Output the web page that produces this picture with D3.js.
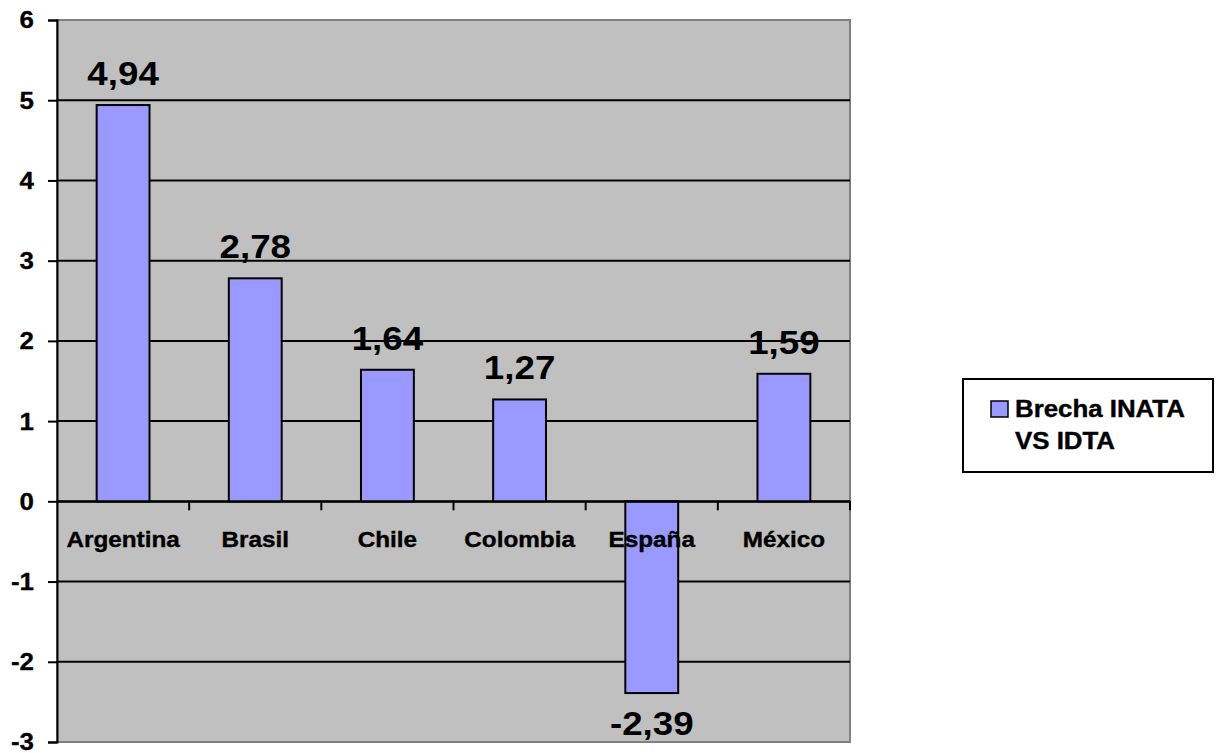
<!DOCTYPE html>
<html>
<head>
<meta charset="utf-8">
<script src="https://cdn.jsdelivr.net/npm/d3@7"></script>
<style>
  html, body { margin: 0; padding: 0; background: #ffffff; }
  svg { display: block; }
  text { font-family: Arial, "Liberation Sans", sans-serif; font-weight: bold; fill: #000; }
</style>
</head>
<body>
<svg id="chart" width="1218" height="753"></svg>
<script>
// Brecha INATA vs IDTA por país
const categories = ["Argentina", "Brasil", "Chile", "Colombia", "España", "México"];
const values = [4.94, 2.78, 1.64, 1.27, -2.39, 1.59];
const valueLabels = ["4,94", "2,78", "1,64", "1,27", "-2,39", "1,59"];
const yTicks = [-3, -2, -1, 0, 1, 2, 3, 4, 5, 6];
const seriesName = ["Brecha INATA", "VS IDTA"];

const svg = d3.select("#chart");
const plot = { left: 57, right: 850, top: 20, bottom: 742 };
const stretch = 1.08;

const x = d3.scaleBand().domain(categories).range([plot.left, plot.right]).paddingInner(0.6).paddingOuter(0.3);
const xCat = d3.scaleBand().domain(categories).range([plot.left, plot.right]);
const y = d3.scaleLinear().domain([-3, 6]).range([plot.bottom, plot.top]);

// plot background
svg.append("rect")
  .attr("x", plot.left).attr("y", plot.top)
  .attr("width", plot.right - plot.left).attr("height", plot.bottom - plot.top)
  .attr("fill", "#C0C0C0").attr("stroke", "#808080").attr("stroke-width", 2);

// horizontal gridlines
svg.append("g").selectAll("line")
  .data(yTicks.filter(t => t > -3 && t < 6))
  .join("line")
  .attr("x1", plot.left).attr("x2", plot.right)
  .attr("y1", d => y(d)).attr("y2", d => y(d))
  .attr("stroke", "#000").attr("stroke-width", 2);

// left axis line and tick marks
const yAxis = svg.append("g").attr("transform", `translate(${plot.left},0)`)
  .call(d3.axisLeft(y).tickValues(yTicks).tickSize(9).tickFormat(""));
yAxis.select(".domain").attr("stroke", "#000").attr("stroke-width", 2);
yAxis.selectAll(".tick line").attr("stroke", "#000").attr("stroke-width", 2);

// left axis labels
svg.append("g").selectAll("g")
  .data(yTicks)
  .join("g")
  .attr("transform", d => `translate(34,${y(d)}) scale(${stretch},1)`)
  .append("text")
  .attr("text-anchor", "end").attr("dy", "0.35em").attr("font-size", 24)
  .attr("stroke", "#000").attr("stroke-width", 0.3)
  .text(d => String(d));

// bars
svg.append("g").selectAll("rect")
  .data(categories)
  .join("rect")
  .attr("x", d => x(d))
  .attr("width", x.bandwidth())
  .attr("y", (d, i) => y(Math.max(0, values[i])))
  .attr("height", (d, i) => Math.abs(y(values[i]) - y(0)))
  .attr("fill", "#9999FF").attr("stroke", "#000").attr("stroke-width", 2);

// category axis along zero
const xAxis = svg.append("g").attr("transform", `translate(0,${y(0)})`)
  .call(d3.axisBottom(xCat).tickSize(0).tickFormat(""));
xAxis.select(".domain").attr("stroke", "#000").attr("stroke-width", 2);
// separator ticks between categories
svg.append("g").selectAll("line")
  .data(categories)
  .join("line")
  .attr("x1", d => xCat(d) + xCat.bandwidth())
  .attr("x2", d => xCat(d) + xCat.bandwidth())
  .attr("y1", y(0)).attr("y2", y(0) + 9)
  .attr("stroke", "#000").attr("stroke-width", 2);

// category labels
svg.append("g").selectAll("g")
  .data(categories)
  .join("g")
  .attr("transform", d => `translate(${xCat(d) + xCat.bandwidth() / 2},${y(0) + 46}) scale(${stretch},1)`)
  .append("text")
  .attr("text-anchor", "middle").attr("font-size", 22.5)
  .attr("stroke", "#000").attr("stroke-width", 0.4)
  .text(d => d);

// value labels
svg.append("g").selectAll("g")
  .data(categories)
  .join("g")
  .attr("transform", (d, i) => {
    const v = values[i];
    const yy = v >= 0 ? y(v) - 20 : y(v) + 42;
    return `translate(${x(d) + x.bandwidth() / 2},${yy}) scale(${stretch},1)`;
  })
  .append("text")
  .attr("text-anchor", "middle").attr("font-size", 34)
  .text((d, i) => valueLabels[i]);

// legend
const legend = svg.append("g");
legend.append("rect")
  .attr("x", 963).attr("y", 379).attr("width", 250).attr("height", 93)
  .attr("fill", "#fff").attr("stroke", "#000").attr("stroke-width", 2);
legend.append("rect")
  .attr("x", 991).attr("y", 401).attr("width", 17).attr("height", 16)
  .attr("fill", "#9999FF").attr("stroke", "#000").attr("stroke-width", 1.5);
legend.selectAll("g.line")
  .data(seriesName)
  .join("g").attr("class", "line")
  .attr("transform", (d, i) => `translate(1015,${417 + i * 32}) scale(1.1,1)`)
  .append("text")
  .attr("font-size", 23.5)
  .attr("stroke", "#000").attr("stroke-width", 0.4)
  .text(d => d);
</script>
</body>
</html>
